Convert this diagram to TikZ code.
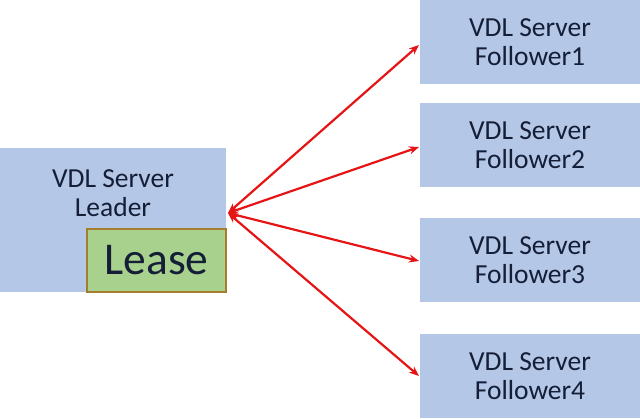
\documentclass[tikz,border=0pt]{standalone}
\usepackage{fontspec}
\setmainfont{Carlito}
\usetikzlibrary{arrows.meta}
\definecolor{boxblue}{RGB}{180,199,231}
\definecolor{leasegreen}{RGB}{169,209,142}
\definecolor{leaseborder}{RGB}{165,125,45}
\definecolor{txt}{RGB}{20,30,55}
\definecolor{arrred}{RGB}{230,20,20}
\tikzset{
  x=1pt, y=-1pt,
  servertext/.style={font=\fontsize{27.5}{29}\selectfont, text=txt, align=center},
  serverbox/.style={servertext, fill=boxblue, draw=none, minimum width=220pt, minimum height=84pt, inner sep=0pt},
  conn/.style={draw=arrred, line width=2.2pt, {Stealth[length=10pt,width=8pt]}-{Stealth[length=10pt,width=8pt]}}
}
\begin{document}
\begin{tikzpicture}
\useasboundingbox (0,0) rectangle (640,419);
\fill[boxblue] (0,148) rectangle (226,292);
\node[servertext] (leader) at (113,193) {VDL Server\\Leader};
\node[fill=leasegreen, draw=leaseborder, line width=1.5pt, minimum width=139pt, minimum height=63pt, inner sep=0pt,
  font=\fontsize{45.5}{48}\selectfont, text=txt] (lease) at (156.5,260.5) {Lease};
\node[serverbox] (f1) at (530,42.5) {VDL Server\\Follower1};
\node[serverbox] (f2) at (530,145) {VDL Server\\Follower2};
\node[serverbox] (f3) at (530,260) {VDL Server\\Follower3};
\node[serverbox] (f4) at (530,376) {VDL Server\\Follower4};
\coordinate (hub) at (228,213);
\coordinate (t1) at (419,45);
\coordinate (t2) at (419,147);
\coordinate (t3) at (419,261);
\coordinate (t4) at (419,376);
\draw[conn] (hub) -- (t1);
\draw[conn] (hub) -- (t2);
\draw[conn] (hub) -- (t3);
\draw[conn] (hub) -- (t4);
\end{tikzpicture}
\end{document}
